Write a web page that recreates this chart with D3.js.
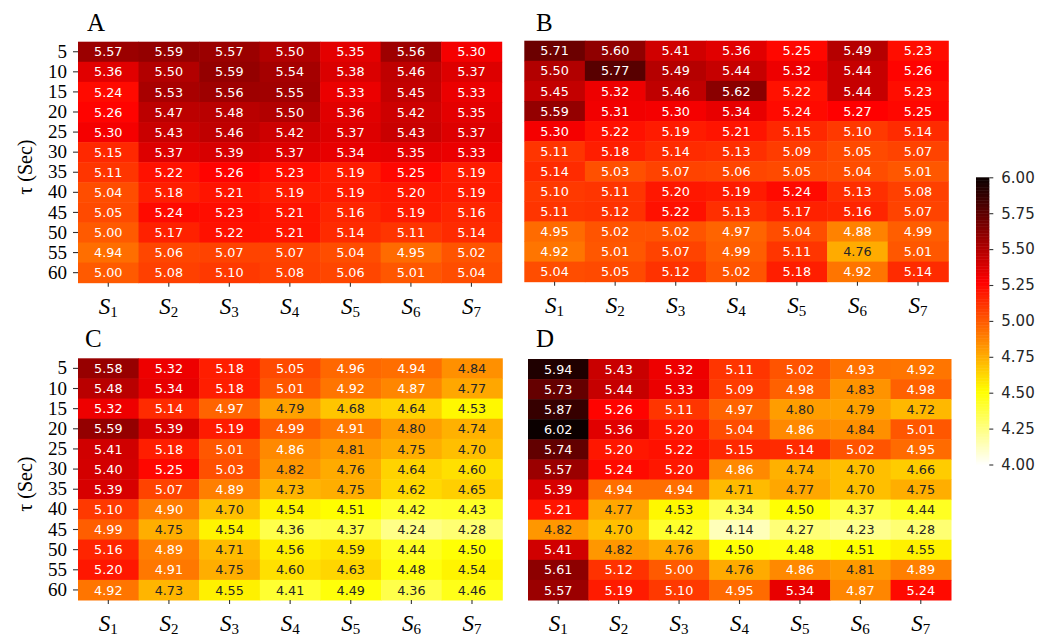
<!DOCTYPE html>
<html>
<head>
<meta charset="utf-8">
<script src="https://cdn.jsdelivr.net/npm/d3@7"></script>
<style>
  body { margin: 0; background: #fff; }
  svg { display: block; }
</style>
</head>
<body>
<div id="chart"></div>
<script>
// --- data ---
const taus = [5, 10, 15, 20, 25, 30, 35, 40, 45, 50, 55, 60];
const sensors = ["1", "2", "3", "4", "5", "6", "7"];

const valuesA = [
    [5.57, 5.59, 5.57, 5.50, 5.35, 5.56, 5.30],
    [5.36, 5.50, 5.59, 5.54, 5.38, 5.46, 5.37],
    [5.24, 5.53, 5.56, 5.55, 5.33, 5.45, 5.33],
    [5.26, 5.47, 5.48, 5.50, 5.36, 5.42, 5.35],
    [5.30, 5.43, 5.46, 5.42, 5.37, 5.43, 5.37],
    [5.15, 5.37, 5.39, 5.37, 5.34, 5.35, 5.33],
    [5.11, 5.22, 5.26, 5.23, 5.19, 5.25, 5.19],
    [5.04, 5.18, 5.21, 5.19, 5.19, 5.20, 5.19],
    [5.05, 5.24, 5.23, 5.21, 5.16, 5.19, 5.16],
    [5.00, 5.17, 5.22, 5.21, 5.14, 5.11, 5.14],
    [4.94, 5.06, 5.07, 5.07, 5.04, 4.95, 5.02],
    [5.00, 5.08, 5.10, 5.08, 5.06, 5.01, 5.04]
];
const valuesB = [
    [5.71, 5.60, 5.41, 5.36, 5.25, 5.49, 5.23],
    [5.50, 5.77, 5.49, 5.44, 5.32, 5.44, 5.26],
    [5.45, 5.32, 5.46, 5.62, 5.22, 5.44, 5.23],
    [5.59, 5.31, 5.30, 5.34, 5.24, 5.27, 5.25],
    [5.30, 5.22, 5.19, 5.21, 5.15, 5.10, 5.14],
    [5.11, 5.18, 5.14, 5.13, 5.09, 5.05, 5.07],
    [5.14, 5.03, 5.07, 5.06, 5.05, 5.04, 5.01],
    [5.10, 5.11, 5.20, 5.19, 5.24, 5.13, 5.08],
    [5.11, 5.12, 5.22, 5.13, 5.17, 5.16, 5.07],
    [4.95, 5.02, 5.02, 4.97, 5.04, 4.88, 4.99],
    [4.92, 5.01, 5.07, 4.99, 5.11, 4.76, 5.01],
    [5.04, 5.05, 5.12, 5.02, 5.18, 4.92, 5.14]
];
const valuesC = [
    [5.58, 5.32, 5.18, 5.05, 4.96, 4.94, 4.84],
    [5.48, 5.34, 5.18, 5.01, 4.92, 4.87, 4.77],
    [5.32, 5.14, 4.97, 4.79, 4.68, 4.64, 4.53],
    [5.59, 5.39, 5.19, 4.99, 4.91, 4.80, 4.74],
    [5.41, 5.18, 5.01, 4.86, 4.81, 4.75, 4.70],
    [5.40, 5.25, 5.03, 4.82, 4.76, 4.64, 4.60],
    [5.39, 5.07, 4.89, 4.73, 4.75, 4.62, 4.65],
    [5.10, 4.90, 4.70, 4.54, 4.51, 4.42, 4.43],
    [4.99, 4.75, 4.54, 4.36, 4.37, 4.24, 4.28],
    [5.16, 4.89, 4.71, 4.56, 4.59, 4.44, 4.50],
    [5.20, 4.91, 4.75, 4.60, 4.63, 4.48, 4.54],
    [4.92, 4.73, 4.55, 4.41, 4.49, 4.36, 4.46]
];
const valuesD = [
    [5.94, 5.43, 5.32, 5.11, 5.02, 4.93, 4.92],
    [5.73, 5.44, 5.33, 5.09, 4.98, 4.83, 4.98],
    [5.87, 5.26, 5.11, 4.97, 4.80, 4.79, 4.72],
    [6.02, 5.36, 5.20, 5.04, 4.86, 4.84, 5.01],
    [5.74, 5.20, 5.22, 5.15, 5.14, 5.02, 4.95],
    [5.57, 5.24, 5.20, 4.86, 4.74, 4.70, 4.66],
    [5.39, 4.94, 4.94, 4.71, 4.77, 4.70, 4.75],
    [5.21, 4.77, 4.53, 4.34, 4.50, 4.37, 4.44],
    [4.82, 4.70, 4.42, 4.14, 4.27, 4.23, 4.28],
    [5.41, 4.82, 4.76, 4.50, 4.48, 4.51, 4.55],
    [5.61, 5.12, 5.00, 4.76, 4.86, 4.81, 4.89],
    [5.57, 5.19, 5.10, 4.95, 5.34, 4.87, 5.24]
];
const colorTicks = [4.00, 4.25, 4.50, 4.75, 5.00, 5.25, 5.50, 5.75, 6.00];

// panel layout (pixel boxes), left / top / right / bottom
const panels = [
    {label: "A", values: valuesA, x0: 78,  y0: 41.7, x1: 501.7, y1: 282.7, lx: 87,  ly: 31, ylab: true},
    {label: "B", values: valuesB, x0: 524.3, y0: 40.7, x1: 948.3, y1: 281.7, lx: 536, ly: 31, ylab: false},
    {label: "C", values: valuesC, x0: 78,  y0: 358.3, x1: 502.3, y1: 600, lx: 85,  ly: 346.5, ylab: true},
    {label: "D", values: valuesD, x0: 528, y0: 359, x1: 951, y1: 600, lx: 536, ly: 346.5, ylab: false}
];

const width = 1049, height = 637;
const serif = "'Liberation Serif', 'Times New Roman', serif";
const sans = "'DejaVu Sans', sans-serif";

// matplotlib "hot", reversed, vmin 4 / vmax 6
function hot(t) {
    const r = Math.min(1, 0.0416 + t * (1 - 0.0416) / 0.365079);
    const g = t < 0.365079 ? 0 : Math.min(1, (t - 0.365079) / (0.746032 - 0.365079));
    const b = t < 0.746032 ? 0 : Math.min(1, (t - 0.746032) / (1 - 0.746032));
    return d3.rgb(r * 255, g * 255, b * 255);
}
const color = d3.scaleSequential(t => hot(1 - t)).domain([4, 6]).clamp(true);

// seaborn style text colour: dark on light cells, white on dark cells
function textColor(v) {
    const c = d3.rgb(color(v));
    const lin = x => { x /= 255; return x <= 0.03928 ? x / 12.92 : Math.pow((x + 0.055) / 1.055, 2.4); };
    const lum = 0.2126 * lin(c.r) + 0.7152 * lin(c.g) + 0.0722 * lin(c.b);
    return lum > 0.408 ? "#262626" : "#ffffff";
}

const fmt = d3.format(".2f");

const svg = d3.select("#chart").append("svg")
    .attr("width", width)
    .attr("height", height);

panels.forEach(p => {
    const x = d3.scaleBand().domain(sensors).range([p.x0, p.x1]);
    const y = d3.scaleBand().domain(taus).range([p.y0, p.y1]);

    const g = svg.append("g").attr("class", "panel");

    const cells = taus.flatMap((t, i) => sensors.map((s, j) => ({t, s, v: p.values[i][j]})));

    g.selectAll("rect.cell")
        .data(cells)
        .join("rect")
        .attr("class", "cell")
        .attr("x", d => x(d.s))
        .attr("y", d => y(d.t))
        .attr("width", x.bandwidth() + 0.5)
        .attr("height", y.bandwidth() + 0.5)
        .attr("fill", d => color(d.v));

    g.selectAll("text.val")
        .data(cells)
        .join("text")
        .attr("class", "val")
        .attr("x", d => x(d.s) + x.bandwidth() / 2)
        .attr("y", d => y(d.t) + y.bandwidth() / 2)
        .attr("dy", "0.36em")
        .attr("text-anchor", "middle")
        .style("font-family", sans)
        .style("font-size", "12.8px")
        .attr("fill", d => textColor(d.v))
        .text(d => fmt(d.v));

    // y axis only on the left panels
    if (p.ylab) {
        const ya = g.append("g")
            .attr("transform", `translate(${p.x0},0)`)
            .call(d3.axisLeft(y).tickSize(5).tickPadding(6));
        ya.select(".domain").remove();
        ya.selectAll("line").attr("stroke", "#333").attr("stroke-width", 1.1);
        ya.selectAll("text")
            .style("font-family", serif)
            .style("font-size", "19px")
            .attr("fill", "#000");

        svg.append("text")
            .attr("transform", `translate(25,${(p.y0 + p.y1) / 2 + 5}) rotate(-90)`)
            .attr("text-anchor", "middle")
            .attr("dy", "0.35em")
            .style("font-family", serif)
            .style("font-size", "20px")
            .text("\u03C4 (Sec)");
    }

    // x axis with S subscripts
    const xa = g.append("g")
        .attr("transform", `translate(0,${p.y1})`)
        .call(d3.axisBottom(x).tickSize(4).tickFormat(""));
    xa.select(".domain").remove();
    xa.selectAll("line").attr("stroke", "#333").attr("stroke-width", 1.1);
    xa.selectAll(".tick").each(function(d) {
        const t = d3.select(this).append("text")
            .attr("y", 31)
            .attr("text-anchor", "middle")
            .style("font-family", serif)
            .attr("fill", "#000");
        t.append("tspan").style("font-style", "italic").style("font-size", "23px").text("S");
        t.append("tspan").style("font-size", "15px").attr("dy", 3).text(d);
    });

    // panel letter
    svg.append("text")
        .attr("x", p.lx)
        .attr("y", p.ly)
        .style("font-family", serif)
        .style("font-size", "25px")
        .text(p.label);
});

// --- colorbar ---
const cbX = 976, cbW = 13.3;
const cScale = d3.scaleLinear().domain([4, 6]).range([464.5, 177.3]);
const steps = d3.range(4, 6, 0.01);

const cb = svg.append("g").attr("class", "colorbar");
cb.selectAll("rect")
    .data(steps)
    .join("rect")
    .attr("x", cbX)
    .attr("y", d => cScale(d + 0.01))
    .attr("width", cbW)
    .attr("height", d => cScale(d) - cScale(d + 0.01) + 0.5)
    .attr("fill", d => color(d + 0.005));

const ca = cb.append("g")
    .attr("transform", `translate(${cbX + cbW},0)`)
    .call(d3.axisRight(cScale).tickValues(colorTicks).tickFormat(fmt).tickSize(4).tickPadding(8));
ca.select(".domain").remove();
ca.selectAll("line").attr("stroke", "#333").attr("stroke-width", 1.1);
ca.selectAll("text")
    .style("font-family", sans)
    .style("font-size", "15px")
    .attr("fill", "#262626");
</script>
</body>
</html>
